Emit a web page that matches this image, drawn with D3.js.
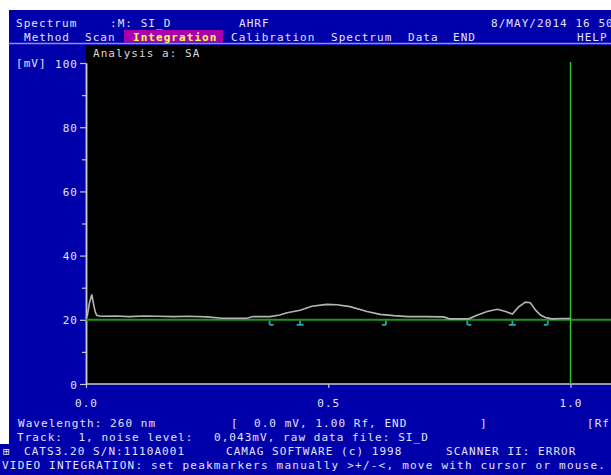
<!DOCTYPE html>
<html>
<head>
<meta charset="utf-8">
<script src="https://cdn.jsdelivr.net/npm/d3@7.9.0/dist/d3.min.js"></script>
<style>
  body { margin: 0; background: #fff; }
  svg text { font-family: "DejaVu Sans Mono", monospace; font-size: 11px; letter-spacing: 1.05px; white-space: pre; }
</style>
</head>
<body>
<svg id="chart" width="611" height="475"></svg>
<script>
// densitogram trace (Rf -> mV)
const traceRf = [0.000, 0.003, 0.007, 0.012, 0.016, 0.019, 0.022, 0.030, 0.060, 0.090, 0.120,
  0.150, 0.180, 0.210, 0.250, 0.280, 0.300, 0.332, 0.345, 0.380, 0.400, 0.415, 0.442, 0.466,
  0.497, 0.518, 0.545, 0.580, 0.607, 0.635, 0.665, 0.700, 0.738, 0.750, 0.790, 0.807, 0.828,
  0.849, 0.866, 0.880, 0.893, 0.907, 0.917, 0.928, 0.938, 0.948, 0.962, 0.980, 1.000];
const traceMv = [20.5, 21.5, 25.2, 27.9, 24.5, 22.5, 21.4, 21.1, 21.2, 21.0, 21.2,
  21.1, 21.0, 21.1, 20.9, 20.5, 20.5, 20.5, 21.0, 21.0, 21.5, 22.2, 23.0, 24.2,
  24.8, 24.7, 24.1, 22.6, 21.7, 21.3, 21.0, 21.0, 20.9, 20.3, 20.3, 21.4, 22.6,
  23.3, 22.6, 21.8, 24.0, 25.5, 25.3, 23.0, 21.5, 20.7, 20.3, 20.4, 20.4];

// peak markers set by hand
const peakRf = [0.379, 0.442, 0.619, 0.787, 0.880, 0.953];
const peakKind = ['start', 'max', 'end', 'start', 'max', 'end'];

const baselineMv = 20;
const baselineRf = [0, 1.085];
const cursorRf = 1.0;

const yMajor = [0, 20, 40, 60, 80, 100];
const yMinor = [10, 30, 50, 70, 90];
const xTicks = [0, 0.5, 1.0];

// screen text: [text, x, y, color]
const screenText = [
  ['Spectrum', 16, 27], [':M: SI_D', 110, 27], ['AHRF', 239, 27], ['8/MAY/2014 16 50', 491, 27],
  ['Method', 24, 41], ['Scan', 85, 41], ['Calibration', 231, 41], ['Spectrum', 331, 41],
  ['Data', 408, 41], ['END', 453, 41], ['HELP', 577, 41],
  ['Wavelength: 260 nm', 18, 427], ['[', 231, 427], ['0.0 mV, 1.00 Rf, END', 254, 427],
  [']', 480, 427], ['[Rf]', 587, 427],
  ['Track:  1, noise level:', 17, 441], ['0,043mV, raw data file: SI_D', 214, 441],
  ['\u229E', 3, 455], ['CATS3.20 S/N:1110A001', 24, 455], ['CAMAG SOFTWARE (c) 1998', 226, 455],
  ['SCANNER II: ERROR', 446, 455]
];

const BLUE = '#0000aa', TXT = '#e2e2fa', AXIS = '#c8c8c8';

const svg = d3.select('#chart');
const x = d3.scaleLinear().domain([0, 1]).range([86, 570.5]);
const y = d3.scaleLinear().domain([0, 100]).range([384, 63]);

// screen background
svg.append('rect').attr('x', 9).attr('y', 10).attr('width', 602).attr('height', 465).attr('fill', BLUE);
svg.append('rect').attr('x', 0).attr('y', 444).attr('width', 10).attr('height', 31).attr('fill', BLUE);
svg.append('rect').attr('x', 86).attr('y', 45).attr('width', 525).attr('height', 339).attr('fill', '#000');

// menu bar
svg.append('rect').attr('x', 124).attr('y', 30).attr('width', 99).attr('height', 12.5).attr('fill', '#aa00aa');
svg.append('text').attr('x', 133).attr('y', 41).attr('fill', '#ffff55').attr('font-weight', 'bold').text('Integration');
svg.append('line').attr('x1', 9).attr('x2', 611).attr('y1', 43.5).attr('y2', 43.5)
  .attr('stroke', '#8c8cff').attr('stroke-width', 1.5);

screenText.forEach(([t, tx, ty]) => {
  svg.append('text').attr('x', tx).attr('y', ty).attr('fill', TXT).text(t);
});
svg.append('text').attr('x', 2).attr('y', 469).attr('fill', TXT).attr('textLength', 604)
  .attr('lengthAdjust', 'spacing')
  .text('VIDEO INTEGRATION: set peakmarkers manually >+/-<, move with cursor or mouse.');

svg.append('text').attr('x', 93).attr('y', 57).attr('fill', '#d8d8d8').text('Analysis a: SA');

// y axis
const gy = svg.append('g').attr('transform', 'translate(86,0)');
gy.call(d3.axisLeft(y).tickValues(yMajor).tickSize(6).tickSizeOuter(0).tickPadding(2));
gy.append('g').call(d3.axisLeft(y).tickValues(yMinor).tickSize(4).tickSizeOuter(0).tickFormat(''));
gy.selectAll('path.domain').attr('stroke', AXIS).attr('stroke-width', 1.5);
gy.selectAll('.tick line').attr('stroke', AXIS).attr('stroke-width', 1.2);
gy.selectAll('text').attr('fill', TXT).attr('font-size', null).attr('font-family', null)
  .attr('dy', null).attr('y', 4);
svg.append('text').attr('x', 16).attr('y', y(100) + 4).attr('fill', TXT).text('[mV]');

// x axis
const gx = svg.append('g').attr('transform', 'translate(0,384)');
gx.call(d3.axisBottom(x).tickValues(xTicks).tickSize(4).tickSizeOuter(0).tickPadding(11)
  .tickFormat(d3.format('.1f')));
gx.select('path.domain').remove();
gx.selectAll('.tick line').attr('stroke', AXIS).attr('stroke-width', 1.2);
gx.selectAll('text').attr('fill', TXT).attr('font-size', null).attr('font-family', null);
gx.append('line').attr('x1', 86).attr('x2', 611).attr('stroke', AXIS).attr('stroke-width', 1.5);

// baseline and Rf cursor
svg.append('line').attr('x1', x(baselineRf[0])).attr('x2', x(baselineRf[1]))
  .attr('y1', y(baselineMv)).attr('y2', y(baselineMv)).attr('stroke', '#1a9a1a').attr('stroke-width', 2);
svg.append('line').attr('x1', x(cursorRf)).attr('x2', x(cursorRf)).attr('y1', y(100) - 1).attr('y2', y(0))
  .attr('stroke', '#30c030').attr('stroke-width', 1.5);

// trace
const pts = traceRf.map((r, i) => [r, traceMv[i]]);
svg.append('path')
  .attr('d', d3.line().x(d => x(d[0])).y(d => y(d[1]))(pts))
  .attr('fill', 'none').attr('stroke', '#b4b4b4').attr('stroke-width', 1.6);

// peak markers
const my = y(baselineMv);
peakRf.forEach((r, i) => {
  const px = x(r);
  const kind = peakKind[i];
  const hx1 = kind === 'end' ? px - 4 : (kind === 'max' ? px - 3.5 : px);
  const hx2 = kind === 'start' ? px + 4 : (kind === 'max' ? px + 3.5 : px);
  svg.append('path')
    .attr('d', `M${px},${my + 1}V${my + 5}M${hx1},${my + 5}H${hx2}`)
    .attr('fill', 'none').attr('stroke', '#22aab8').attr('stroke-width', 1.8);
});
</script>
</body>
</html>
